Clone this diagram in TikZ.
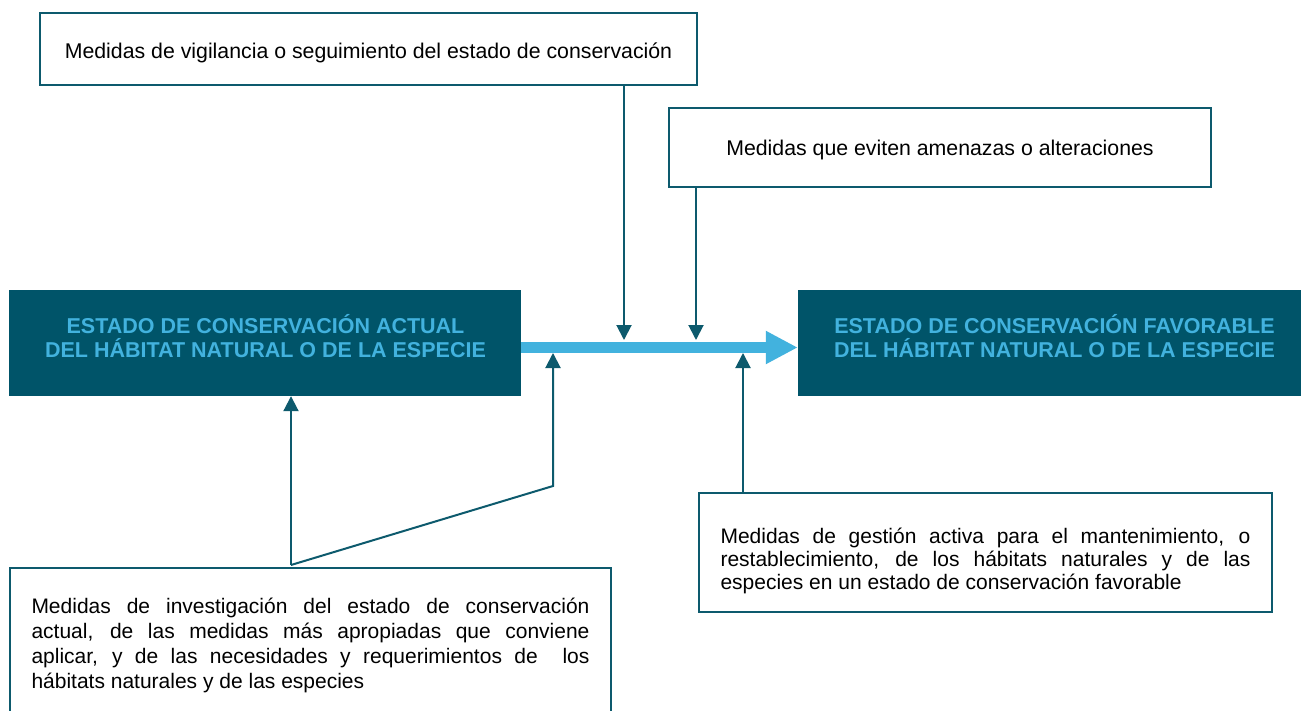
\documentclass[tikz,border=0pt]{standalone}
\usepackage{fontspec}
\setmainfont{Liberation Sans}
\usetikzlibrary{arrows.meta}
\definecolor{dark}{HTML}{005469}
\definecolor{lightb}{HTML}{42B2DE}
\definecolor{lin}{HTML}{0D5A6D}
\begin{document}
\begin{tikzpicture}[x=1pt,y=-1pt,
  wbox/.style={draw=lin, line width=1.5pt, fill=white, inner sep=0pt},
  wtext/.style={inner sep=0pt, align=left},
  dbox/.style={fill=dark, inner sep=0pt},
  htext/.style={text=lightb, inner sep=0pt, align=center, font=\fontsize{21.5}{24}\selectfont\bfseries},
  conn/.style={draw=lin, line width=2pt},
  tipa/.style={-{Triangle[length=15pt,width=15pt]}},
  bigarrow/.style={draw=lightb, line width=11pt, -{Triangle[length=32pt,width=31pt]}}
]
\clip (0,0) rectangle (1301,711);
\fill[white] (0,0) rectangle (1301,711);
% top boxes
\node[wbox, minimum width=657, minimum height=72] (vig) at (368.5,49) {};
\node[wtext, font=\fontsize{21.3}{25}\selectfont] (vigt) at (368.5,52.5) {Medidas de vigilancia o seguimiento del estado de conservación};
\node[wbox, minimum width=542, minimum height=79] (ame) at (940,147.5) {};
\node[wtext, font=\fontsize{21.3}{25}\selectfont] (amet) at (940,149.5) {Medidas que eviten amenazas o alteraciones};
% dark boxes
\node[dbox, minimum width=512, minimum height=106] (cur) at (265,343) {};
\node[htext] (curt) at (265.5,336.5) {ESTADO DE CONSERVACIÓN ACTUAL\\DEL HÁBITAT NATURAL O DE LA ESPECIE};
\node[dbox, minimum width=503, minimum height=106] (fav) at (1049.5,343) {};
\node[htext] (favt) at (1054.5,336.5) {ESTADO DE CONSERVACIÓN FAVORABLE\\DEL HÁBITAT NATURAL O DE LA ESPECIE};
% bottom boxes
\node[wbox, minimum width=601, minimum height=154] (inv) at (310.5,645) {};
\node[wtext, font=\fontsize{21}{25}\selectfont] (invt) at (310.5,645) {%
\makebox[558pt][s]{Medidas de investigación del estado de conservación}\\
\makebox[558pt][s]{actual, de las medidas más apropiadas que conviene}\\
\makebox[558pt][s]{aplicar, y de las necesidades y requerimientos de\ \ los}\\
hábitats naturales y de las especies};
\node[wbox, minimum width=573, minimum height=119] (ges) at (985.5,552.5) {};
\node[wtext, font=\fontsize{21}{23}\selectfont] (gest) at (985.5,560.5) {%
\makebox[530pt][s]{Medidas de gestión activa para el mantenimiento, o}\\
\makebox[530pt][s]{restablecimiento, de los hábitats naturales y de las}\\
especies en un estado de conservación favorable};
% main arrow
\draw[bigarrow] ([yshift=-4.5pt]cur.east) -- ([yshift=-4.5pt]fav.west);
% arrow end points on the main arrow
\coordinate (d1) at (624,340);
\coordinate (d2) at (696,340);
\coordinate (u1) at (553,353);
\coordinate (u2) at (743,353);
\coordinate (j1) at (291,565);
\coordinate (j2) at (553,486);
\draw[conn,tipa] (d1 |- vig.south) -- (d1);
\draw[conn,tipa] (d2 |- ame.south) -- (d2);
\draw[conn,tipa] (u2 |- ges.north) -- (u2);
\draw[conn,tipa] (j1) -- (j1 |- cur.south);
\draw[conn,tipa] (j1) -- (j2) -- (u1);
\end{tikzpicture}
\end{document}
